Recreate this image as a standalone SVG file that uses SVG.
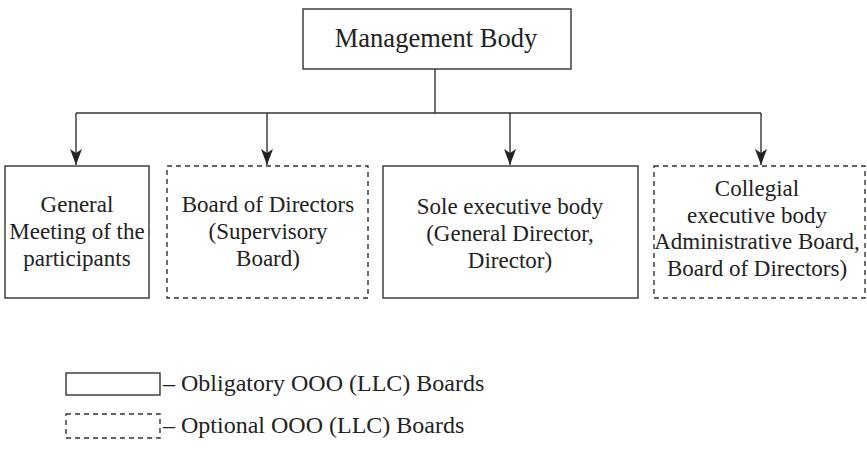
<svg xmlns="http://www.w3.org/2000/svg" width="867" height="455" viewBox="0 0 867 455">
<style>
.box{fill:#fff;stroke:#333;stroke-width:1.4}
.dash{fill:#fff;stroke:#333;stroke-width:1.4;stroke-dasharray:5 4}
.ln{fill:none;stroke:#333;stroke-width:1.4}
.t{font-family:'Liberation Serif','Times New Roman',serif;font-size:23px;fill:#222;text-anchor:middle}
.tl{font-family:'Liberation Serif','Times New Roman',serif;font-size:24px;fill:#222}
</style>
<defs>
<marker id="ah" viewBox="0 0 16 12" refX="16" refY="6" markerWidth="16" markerHeight="12" markerUnits="userSpaceOnUse" orient="auto">
<path d="M0,0 L16,6 L0,12 L4,6 Z" fill="#222"/>
</marker>
</defs>
<rect width="867" height="455" fill="#fff"/>
<g id="connectors">
<path class="ln" d="M435,69 V113"/>
<path class="ln" d="M76,113 H761"/>
<path class="ln" d="M76,113 V165" marker-end="url(#ah)"/>
<path class="ln" d="M267,113 V165" marker-end="url(#ah)"/>
<path class="ln" d="M510,113 V165" marker-end="url(#ah)"/>
<path class="ln" d="M761,113 V165" marker-end="url(#ah)"/>
</g>
<g id="management-body">
<rect class="box" x="303" y="9" width="268" height="60"/>
<text class="t" x="436" y="47" style="font-size:26.5px">Management Body</text>
</g>
<g id="general-meeting">
<rect class="box" x="5" y="166" width="144" height="132"/>
<text class="t" x="77" y="212">General</text>
<text class="t" x="77" y="239">Meeting of the</text>
<text class="t" x="77" y="266">participants</text>
</g>
<g id="board-of-directors">
<rect class="dash" x="167" y="166" width="201" height="132"/>
<text class="t" x="268" y="212">Board of Directors</text>
<text class="t" x="268" y="239">(Supervisory</text>
<text class="t" x="268" y="266">Board)</text>
</g>
<g id="sole-executive">
<rect class="box" x="383" y="166" width="255" height="132"/>
<text class="t" x="510" y="214">Sole executive body</text>
<text class="t" x="510" y="241">(General Director,</text>
<text class="t" x="510" y="268">Director)</text>
</g>
<g id="collegial-executive">
<rect class="dash" x="654" y="166" width="211" height="132"/>
<text class="t" x="757" y="196">Collegial</text>
<text class="t" x="757" y="223">executive body</text>
<text class="t" x="757" y="249">Administrative Board,</text>
<text class="t" x="757" y="276">Board of Directors)</text>
</g>
<g id="legend">
<rect class="box" x="66" y="373" width="94" height="22"/>
<text class="tl" x="163" y="391">&#8211; Obligatory OOO (LLC) Boards</text>
<rect class="dash" x="66" y="414" width="94" height="24"/>
<text class="tl" x="163" y="433">&#8211; Optional OOO (LLC) Boards</text>
</g>
</svg>
